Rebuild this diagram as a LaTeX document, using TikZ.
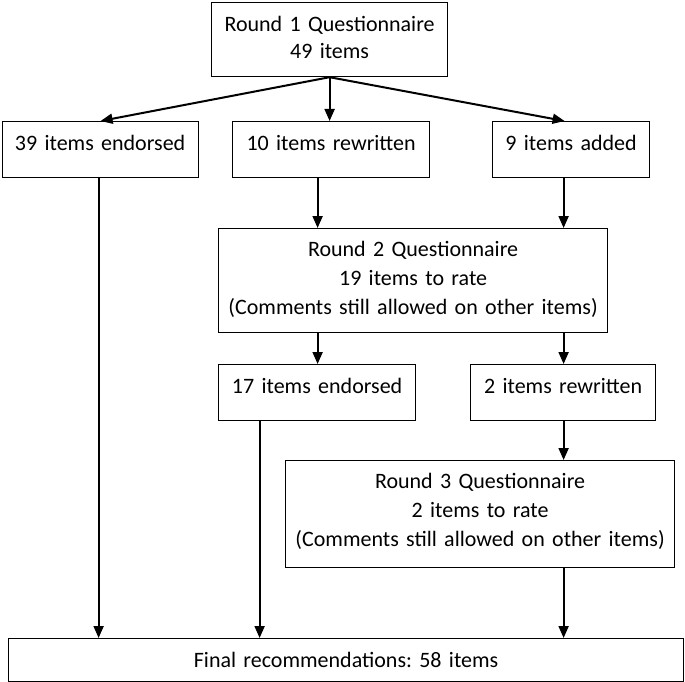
\documentclass[tikz,border=0pt]{standalone}
\usepackage{fontspec}
\setmainfont{Carlito}
\frenchspacing
\usetikzlibrary{arrows.meta}
\tikzset{
  box/.style={draw=black, line width=1.2pt, anchor=north west, inner sep=0pt,
    align=center, font=\fontsize{22}{28.8}\selectfont},
  arr/.style={draw=black, line width=2pt, -{Triangle[length=12pt,width=10pt]}}
}
\begin{document}
\begin{tikzpicture}[x=1pt,y=-1pt]
\useasboundingbox (0,0) rectangle (685,682);
\node[box, text width=236pt, text height=29pt, text depth=45pt,
  font=\fontsize{22}{26.5}\selectfont\frenchspacing] (r1) at (211,2)
  {Round 1 Questionnaire\\49 items};
\node[box, text width=196pt, text height=29pt, text depth=27pt] (e39) at (1.5,121)
  {39 items endorsed};
\node[box, text width=197pt, text height=29pt, text depth=27pt] (rw10) at (232,121)
  {10 items rewritten};
\node[box, text width=157pt, text height=29pt, text depth=27pt] (add9) at (492,121)
  {9 items added};
\node[box, text width=389pt, text height=28pt, text depth=76pt] (r2) at (218,228)
  {Round 2 Questionnaire\\19 items to rate\\(Comments still allowed on other items)};
\node[box, text width=197pt, text height=29pt, text depth=27pt] (e17) at (218,364)
  {17 items endorsed};
\node[box, text width=185pt, text height=29pt, text depth=27pt] (rw2) at (470,364)
  {2 items rewritten};
\node[box, text width=389pt, text height=28pt, text depth=79pt] (r3) at (285,460)
  {Round 3 Questionnaire\\2 items to rate\\(Comments still allowed on other items)};
\node[box, text width=675pt, text height=29pt, text depth=14pt] (fin) at (8,638)
  {Final recommendations: 58 items};
% connectors
\draw[arr] (r1.south) -- ([xshift=0.5pt]e39.north);
\draw[arr] (r1.south) -- (r1.south |- rw10.north);
\draw[arr] (r1.south) -- ([xshift=-6.5pt]add9.north);
\draw[arr] ([xshift=-1.5pt]e39.south) -- ([xshift=-1.5pt]e39.south |- fin.north);
\draw[arr] ([xshift=-13.5pt]rw10.south) -- ([xshift=-13.5pt]rw10.south |- r2.north);
\draw[arr] ([xshift=-7.5pt]add9.south) -- ([xshift=-7.5pt]add9.south |- r2.north);
\draw[arr] ([xshift=0.5pt]e17.north |- r2.south) -- ([xshift=0.5pt]e17.north);
\draw[arr] ([xshift=0.5pt]rw2.north |- r2.south) -- ([xshift=0.5pt]rw2.north);
\draw[arr] ([xshift=-57.5pt]e17.south) -- ([xshift=-57.5pt]e17.south |- fin.north);
\draw[arr] ([xshift=0.5pt]rw2.south) -- ([xshift=0.5pt]rw2.south |- r3.north);
\draw[arr] ([xshift=0.5pt]r3.south -| rw2.south) -- ([xshift=0.5pt]fin.north -| rw2.south);
\end{tikzpicture}
\end{document}
